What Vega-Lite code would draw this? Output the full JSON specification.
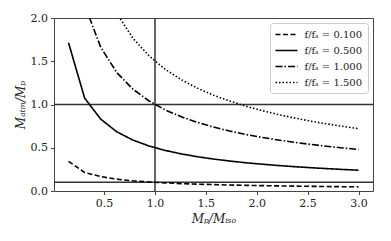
{
  "$schema": "https://vega.github.io/schema/vega-lite/v6.json",
  "width": 319,
  "height": 173,
  "autosize": {"type": "none"},
  "padding": {"left": 54, "top": 18, "right": 18, "bottom": 50},
  "background": "white",
  "config": {
    "view": {"stroke": "#444", "strokeWidth": 1},
    "axis": {
      "grid": false,
      "domain": false,
      "tickColor": "#444",
      "tickSize": 3.5,
      "tickWidth": 1,
      "labelFont": "DejaVu Serif",
      "labelFontSize": 11,
      "labelColor": "#222",
      "titleFont": "DejaVu Serif",
      "titleFontSize": 12,
      "titleFontWeight": "normal",
      "titleFontStyle": "italic",
      "titleColor": "#222"
    },
    "legend": {
      "orient": "top-right",
      "offset": 5,
      "padding": 5,
      "rowPadding": 4,
      "strokeColor": "#cccccc",
      "fillColor": "white",
      "cornerRadius": 3,
      "symbolType": "M-2,0H2",
      "symbolSize": 121,
      "symbolStrokeWidth": 1.5,
      "symbolStrokeColor": "black",
      "symbolOffset": 5,
      "labelOffset": 11.5,
      "labelFont": "DejaVu Serif",
      "labelFontSize": 10,
      "labelColor": "#222"
    }
  },
  "datasets": {
    "curves": [
      {"x": 0.15, "y": 0.343, "series": "f/fₛ = 0.100"},
      {"x": 0.3083, "y": 0.215, "series": "f/fₛ = 0.100"},
      {"x": 0.4667, "y": 0.1662, "series": "f/fₛ = 0.100"},
      {"x": 0.625, "y": 0.1368, "series": "f/fₛ = 0.100"},
      {"x": 0.7833, "y": 0.1177, "series": "f/fₛ = 0.100"},
      {"x": 0.9417, "y": 0.1041, "series": "f/fₛ = 0.100"},
      {"x": 1.1, "y": 0.0938, "series": "f/fₛ = 0.100"},
      {"x": 1.2583, "y": 0.0858, "series": "f/fₛ = 0.100"},
      {"x": 1.4167, "y": 0.0793, "series": "f/fₛ = 0.100"},
      {"x": 1.575, "y": 0.0739, "series": "f/fₛ = 0.100"},
      {"x": 1.7333, "y": 0.0693, "series": "f/fₛ = 0.100"},
      {"x": 1.8917, "y": 0.0654, "series": "f/fₛ = 0.100"},
      {"x": 2.05, "y": 0.062, "series": "f/fₛ = 0.100"},
      {"x": 2.2083, "y": 0.059, "series": "f/fₛ = 0.100"},
      {"x": 2.3667, "y": 0.0563, "series": "f/fₛ = 0.100"},
      {"x": 2.525, "y": 0.0539, "series": "f/fₛ = 0.100"},
      {"x": 2.6833, "y": 0.0518, "series": "f/fₛ = 0.100"},
      {"x": 2.8417, "y": 0.0498, "series": "f/fₛ = 0.100"},
      {"x": 3.0, "y": 0.0481, "series": "f/fₛ = 0.100"},
      {"x": 0.15, "y": 1.715, "series": "f/fₛ = 0.500"},
      {"x": 0.3083, "y": 1.075, "series": "f/fₛ = 0.500"},
      {"x": 0.4667, "y": 0.831, "series": "f/fₛ = 0.500"},
      {"x": 0.625, "y": 0.684, "series": "f/fₛ = 0.500"},
      {"x": 0.7833, "y": 0.5885, "series": "f/fₛ = 0.500"},
      {"x": 0.9417, "y": 0.5205, "series": "f/fₛ = 0.500"},
      {"x": 1.1, "y": 0.4692, "series": "f/fₛ = 0.500"},
      {"x": 1.2583, "y": 0.429, "series": "f/fₛ = 0.500"},
      {"x": 1.4167, "y": 0.3964, "series": "f/fₛ = 0.500"},
      {"x": 1.575, "y": 0.3694, "series": "f/fₛ = 0.500"},
      {"x": 1.7333, "y": 0.3465, "series": "f/fₛ = 0.500"},
      {"x": 1.8917, "y": 0.3269, "series": "f/fₛ = 0.500"},
      {"x": 2.05, "y": 0.3099, "series": "f/fₛ = 0.500"},
      {"x": 2.2083, "y": 0.2949, "series": "f/fₛ = 0.500"},
      {"x": 2.3667, "y": 0.2816, "series": "f/fₛ = 0.500"},
      {"x": 2.525, "y": 0.2697, "series": "f/fₛ = 0.500"},
      {"x": 2.6833, "y": 0.259, "series": "f/fₛ = 0.500"},
      {"x": 2.8417, "y": 0.2492, "series": "f/fₛ = 0.500"},
      {"x": 3.0, "y": 0.2404, "series": "f/fₛ = 0.500"},
      {"x": 0.15, "y": 3.43, "series": "f/fₛ = 1.000"},
      {"x": 0.3083, "y": 2.15, "series": "f/fₛ = 1.000"},
      {"x": 0.4667, "y": 1.662, "series": "f/fₛ = 1.000"},
      {"x": 0.625, "y": 1.368, "series": "f/fₛ = 1.000"},
      {"x": 0.7833, "y": 1.177, "series": "f/fₛ = 1.000"},
      {"x": 0.9417, "y": 1.041, "series": "f/fₛ = 1.000"},
      {"x": 1.1, "y": 0.938, "series": "f/fₛ = 1.000"},
      {"x": 1.2583, "y": 0.858, "series": "f/fₛ = 1.000"},
      {"x": 1.4167, "y": 0.793, "series": "f/fₛ = 1.000"},
      {"x": 1.575, "y": 0.739, "series": "f/fₛ = 1.000"},
      {"x": 1.7333, "y": 0.693, "series": "f/fₛ = 1.000"},
      {"x": 1.8917, "y": 0.654, "series": "f/fₛ = 1.000"},
      {"x": 2.05, "y": 0.62, "series": "f/fₛ = 1.000"},
      {"x": 2.2083, "y": 0.59, "series": "f/fₛ = 1.000"},
      {"x": 2.3667, "y": 0.563, "series": "f/fₛ = 1.000"},
      {"x": 2.525, "y": 0.539, "series": "f/fₛ = 1.000"},
      {"x": 2.6833, "y": 0.518, "series": "f/fₛ = 1.000"},
      {"x": 2.8417, "y": 0.498, "series": "f/fₛ = 1.000"},
      {"x": 3.0, "y": 0.481, "series": "f/fₛ = 1.000"},
      {"x": 0.15, "y": 5.145, "series": "f/fₛ = 1.500"},
      {"x": 0.3083, "y": 3.225, "series": "f/fₛ = 1.500"},
      {"x": 0.4667, "y": 2.493, "series": "f/fₛ = 1.500"},
      {"x": 0.625, "y": 2.052, "series": "f/fₛ = 1.500"},
      {"x": 0.7833, "y": 1.766, "series": "f/fₛ = 1.500"},
      {"x": 0.9417, "y": 1.562, "series": "f/fₛ = 1.500"},
      {"x": 1.1, "y": 1.408, "series": "f/fₛ = 1.500"},
      {"x": 1.2583, "y": 1.287, "series": "f/fₛ = 1.500"},
      {"x": 1.4167, "y": 1.189, "series": "f/fₛ = 1.500"},
      {"x": 1.575, "y": 1.108, "series": "f/fₛ = 1.500"},
      {"x": 1.7333, "y": 1.04, "series": "f/fₛ = 1.500"},
      {"x": 1.8917, "y": 0.981, "series": "f/fₛ = 1.500"},
      {"x": 2.05, "y": 0.93, "series": "f/fₛ = 1.500"},
      {"x": 2.2083, "y": 0.885, "series": "f/fₛ = 1.500"},
      {"x": 2.3667, "y": 0.845, "series": "f/fₛ = 1.500"},
      {"x": 2.525, "y": 0.809, "series": "f/fₛ = 1.500"},
      {"x": 2.6833, "y": 0.777, "series": "f/fₛ = 1.500"},
      {"x": 2.8417, "y": 0.748, "series": "f/fₛ = 1.500"},
      {"x": 3.0, "y": 0.721, "series": "f/fₛ = 1.500"}
    ],
    "hlines": [{"y": 1.0}, {"y": 0.1}],
    "vlines": [{"x": 1.0}]
  },
  "layer": [
    {
      "data": {"name": "hlines"},
      "mark": {"type": "rule", "color": "#333", "strokeWidth": 1.5},
      "encoding": {
        "y": {"field": "y", "type": "quantitative", "scale": {"domain": [0, 2], "nice": false, "zero": false}}
      }
    },
    {
      "data": {"name": "vlines"},
      "mark": {"type": "rule", "color": "#333", "strokeWidth": 1.5},
      "encoding": {
        "x": {"field": "x", "type": "quantitative", "scale": {"domain": [0.0075, 3.1425], "nice": false, "zero": false}}
      }
    },
    {
      "data": {"name": "curves"},
      "mark": {"type": "line", "color": "black", "strokeWidth": 1.6, "clip": true},
      "encoding": {
        "x": {
          "field": "x", "type": "quantitative",
          "scale": {"domain": [0.0075, 3.1425], "nice": false, "zero": false},
          "axis": {"values": [0.5, 1, 1.5, 2, 2.5, 3], "format": ".1f", "title": "Mₚ/Mᵢₛₒ", "labelPadding": 3, "titlePadding": 5}
        },
        "y": {
          "field": "y", "type": "quantitative",
          "scale": {"domain": [0, 2], "nice": false, "zero": false},
          "axis": {"values": [0, 0.5, 1, 1.5, 2], "format": ".1f", "title": "Mₐₜₘ/Mₚ", "labelPadding": 3, "titlePadding": 3}
        },
        "strokeDash": {
          "field": "series", "type": "nominal",
          "scale": {
            "domain": ["f/fₛ = 0.100", "f/fₛ = 0.500", "f/fₛ = 1.000", "f/fₛ = 1.500"],
            "range": [[5, 2.5], [1, 0], [7, 2, 1.5, 2], [1.5, 2]]
          },
          "legend": {"title": null}
        }
      }
    }
  ]
}
